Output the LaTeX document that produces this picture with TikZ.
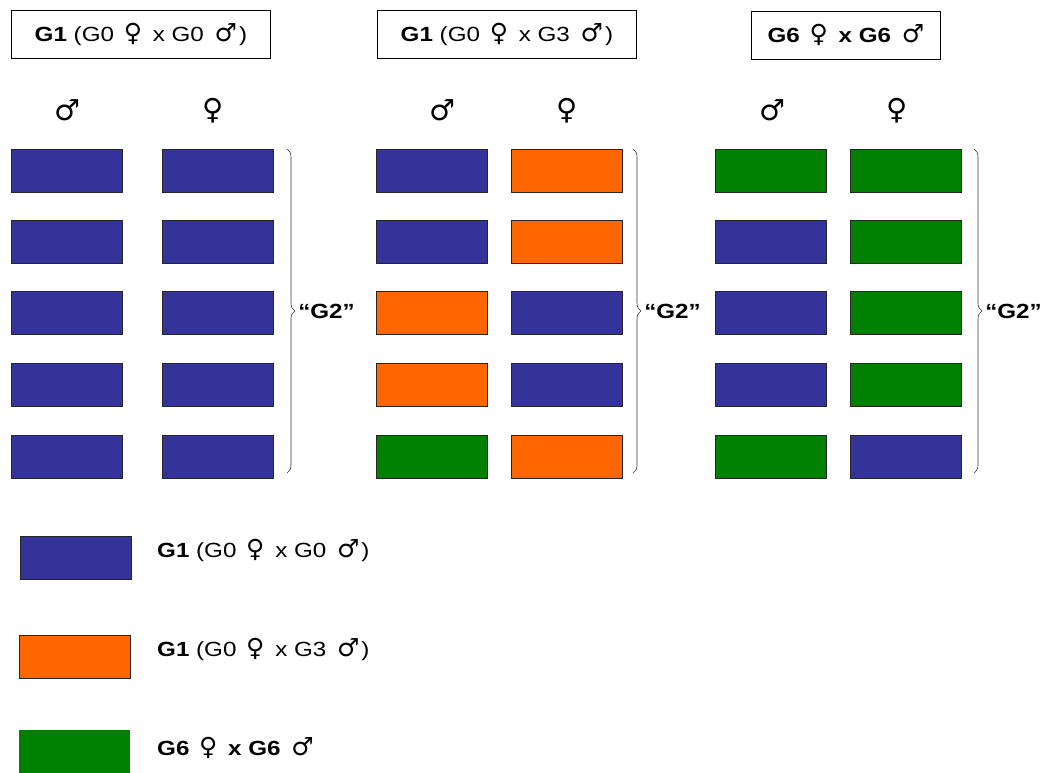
\documentclass[tikz,border=0pt]{standalone}
\usepackage{fontspec}
\setmainfont[FakeStretch=1.18]{Liberation Sans}
\newfontfamily\symf{DejaVu Sans}
\usetikzlibrary{decorations.pathreplacing}
\definecolor{cblue}{HTML}{333399}
\definecolor{corange}{HTML}{FF6600}
\definecolor{cgreen}{HTML}{008000}
\newcommand{\fem}{\hspace{3pt}{\symf\mdseries\fontsize{25}{24}\selectfont ♀}\hspace{4pt}}
\newcommand{\mal}{\hspace{4pt}{\symf\mdseries\fontsize{25}{24}\selectfont ♂}\hspace{2pt}}
\begin{document}
\begin{tikzpicture}[x=1pt,y=-1pt,
  blk/.style={draw=black!85,line width=0.8pt,minimum width=111pt,minimum height=43pt,inner sep=0pt,anchor=north west},
  hdr/.style={draw=black,line width=0.8pt,inner sep=0pt,anchor=north west,font=\fontsize{20.5}{24}\selectfont},
  sym/.style={font=\fontsize{29}{32}\symf},
  lbl/.style={font=\fontsize{20.5}{24}\selectfont,anchor=west,inner sep=0pt},
  brc/.style={draw=black!80,line width=0.6pt,decorate,decoration={brace,amplitude=8pt}}]
\useasboundingbox (0,0) rectangle (1041,773);
% headers
\node[hdr,minimum width=259pt,minimum height=48pt] (h1) at (11,10) {\textbf{G1} (G0 \fem{} x G0 \mal{})};
\node[hdr,minimum width=259pt,minimum height=48pt] (h2) at (377,10) {\textbf{G1} (G0 \fem{} x G3 \mal{})};
\node[hdr,minimum width=189pt,minimum height=48pt] (h3) at (751,11) {\textbf{G6 \fem{} x G6 \mal{}}};
% column symbols
\node[sym] (m1) at (67,110) {♂};
\node[sym] (f1) at (213,111) {♀};
\node[sym] (m2) at (442,110) {♂};
\node[sym] (f2) at (567,111) {♀};
\node[sym] (m3) at (772,110) {♂};
\node[sym] (f3) at (897,111) {♀};
% column 1
\foreach \y [count=\i] in {149,220,291,363,435}{
  \node[blk,fill=cblue] (a\i) at (11,\y) {};
  \node[blk,fill=cblue] (b\i) at (162,\y) {};
}
% column 2
\node[blk,fill=cblue] (c1) at (376,149) {};
\node[blk,fill=cblue] (c2) at (376,220) {};
\node[blk,fill=corange] (c3) at (376,291) {};
\node[blk,fill=corange] (c4) at (376,363) {};
\node[blk,fill=cgreen] (c5) at (376,435) {};
\node[blk,fill=corange] (d1) at (511,149) {};
\node[blk,fill=corange] (d2) at (511,220) {};
\node[blk,fill=cblue] (d3) at (511,291) {};
\node[blk,fill=cblue] (d4) at (511,363) {};
\node[blk,fill=corange] (d5) at (511,435) {};
% column 3
\node[blk,fill=cgreen] (e1) at (715,149) {};
\node[blk,fill=cblue] (e2) at (715,220) {};
\node[blk,fill=cblue] (e3) at (715,291) {};
\node[blk,fill=cblue] (e4) at (715,363) {};
\node[blk,fill=cgreen] (e5) at (715,435) {};
\node[blk,fill=cgreen] (g1) at (850,149) {};
\node[blk,fill=cgreen] (g2) at (850,220) {};
\node[blk,fill=cgreen] (g3) at (850,291) {};
\node[blk,fill=cgreen] (g4) at (850,363) {};
\node[blk,fill=cblue] (g5) at (850,435) {};
% braces
\coordinate (t1) at (287,149); \coordinate (u1) at (287,473);
\coordinate (t2) at (633,149); \coordinate (u2) at (633,473);
\coordinate (t3) at (974,149); \coordinate (u3) at (974,473);
\draw[brc] (t1) -- (u1) node[midway,xshift=11pt,lbl,text=black] (k1) {\textbf{“G2”}};
\draw[brc] (t2) -- (u2) node[midway,xshift=11pt,lbl,text=black] (k2) {\textbf{“G2”}};
\draw[brc] (t3) -- (u3) node[midway,xshift=11pt,lbl,text=black] (k3) {\textbf{“G2”}};
% legend
\node[blk,fill=cblue] (l1) at (20,536) {};
\node[blk,fill=corange] (l2) at (19,635) {};
\node[blk,fill=cgreen,draw=none] (l3) at (19,730) {};
\node[lbl] (lt1) at (157,550) {\textbf{G1} (G0 \fem{} x G0 \mal{})};
\node[lbl] (lt2) at (157,649) {\textbf{G1} (G0 \fem{} x G3 \mal{})};
\node[lbl] (lt3) at (157,748) {\textbf{G6 \fem{} x G6 \mal{}}};
\end{tikzpicture}
\end{document}
